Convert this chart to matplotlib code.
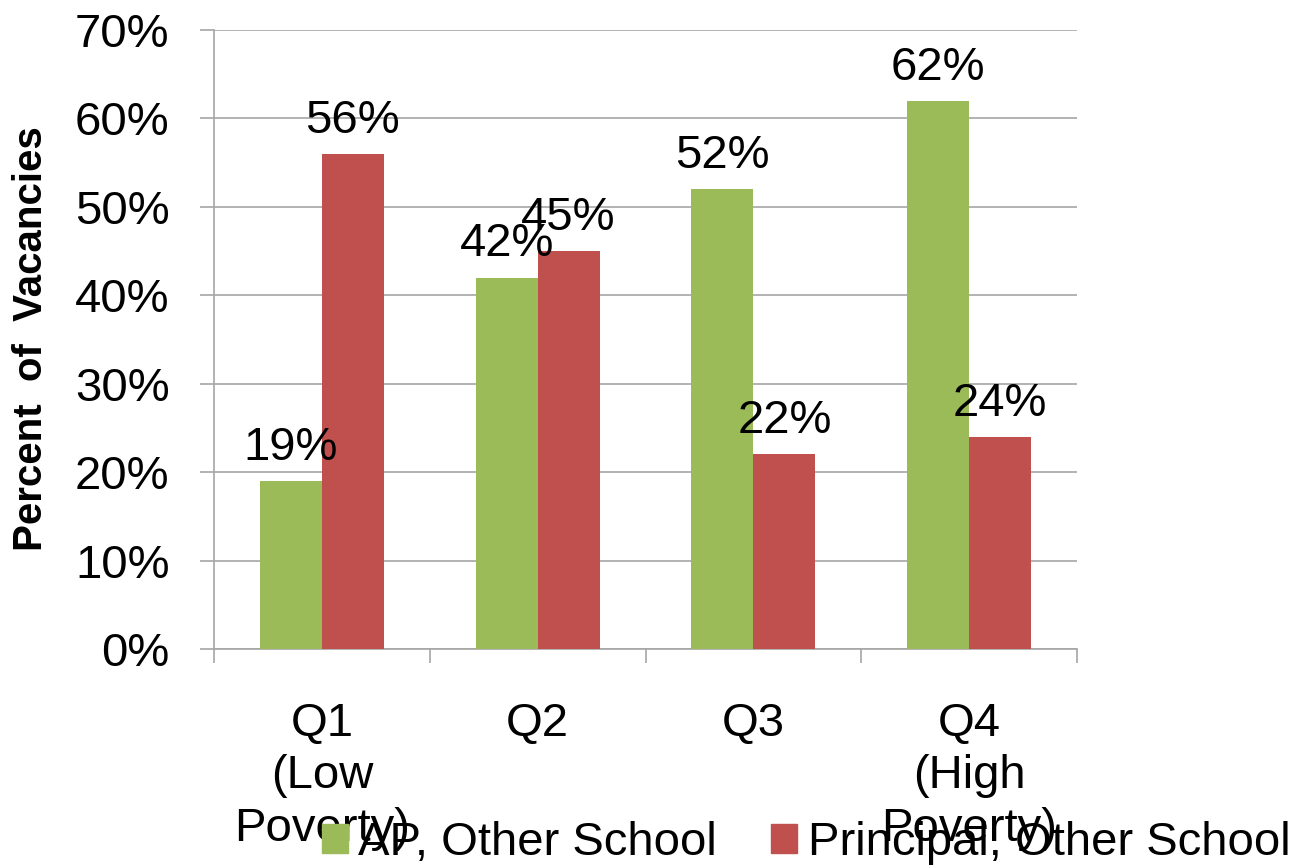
import matplotlib
matplotlib.use("Agg")
import matplotlib.pyplot as plt
from matplotlib.patches import Patch
import numpy as np

plt.rcParams['font.family'] = ['Liberation Sans', 'DejaVu Sans']

categories = ["Q1\n(Low\nPoverty)", "Q2", "Q3", "Q4\n(High\nPoverty)"]
series_names = ["AP, Other School", "Principal, Other School"]
ap_other = [19, 42, 52, 62]
principal_other = [56, 45, 22, 24]
y_ticks = [0, 10, 20, 30, 40, 50, 60, 70]

green = "#9BBB59"
red = "#C0504D"
grid_gray = "#A6A6A6"
fs = 34

fig = plt.figure(figsize=(12.97, 8.68), dpi=100)
ax = fig.add_axes([214 / 1297, 1 - 649 / 868, (1077 - 214) / 1297, (649 - 30) / 868])

x = np.arange(len(categories))
w = 0.287
b1 = ax.bar(x - w / 2, ap_other, w, color=green, zorder=3)
b2 = ax.bar(x + w / 2, principal_other, w, color=red, zorder=3)

for bars, vals in ((b1, ap_other), (b2, principal_other)):
    ax.bar_label(bars, labels=[f"{v}%" for v in vals], padding=8, fontsize=fs, zorder=4)

ax.set_xlim(-0.5, len(categories) - 0.5)
ax.set_ylim(0, 70)
ax.set_yticks(y_ticks)
ax.set_yticklabels([f"{t}%" for t in y_ticks], fontsize=fs)
ax.yaxis.grid(True, color=grid_gray, linewidth=1.2, zorder=0)
ax.tick_params(axis='y', length=10, width=1.2, color=grid_gray, pad=22)

ax.set_xticks(x)
ax.set_xticklabels(categories, fontsize=fs, linespacing=1.25)
ax.tick_params(axis='x', which='major', length=0, pad=38)
ax.set_xticks(np.arange(len(categories) + 1) - 0.5, minor=True)
ax.tick_params(axis='x', which='minor', length=10, width=1.2, color=grid_gray)

for side in ('top', 'right'):
    ax.spines[side].set_visible(False)
for side in ('left', 'bottom'):
    ax.spines[side].set_color(grid_gray)
    ax.spines[side].set_linewidth(1.2)

fig.text(31 / 1297, 1 - 339 / 868, "Percent  of  Vacancies", rotation=90,
         ha='center', va='center', fontsize=29, fontweight='bold')

handles = [Patch(color=green), Patch(color=red)]
fig.legend(handles, series_names, loc='center left', ncol=2,
           bbox_to_anchor=(322 / 1297, 1 - 843 / 868), frameon=False,
           fontsize=fs, handlelength=0.55, handleheight=0.55,
           handletextpad=0.22, columnspacing=1.15, borderpad=0, borderaxespad=0)

fig.savefig("out.png", dpi=100)
